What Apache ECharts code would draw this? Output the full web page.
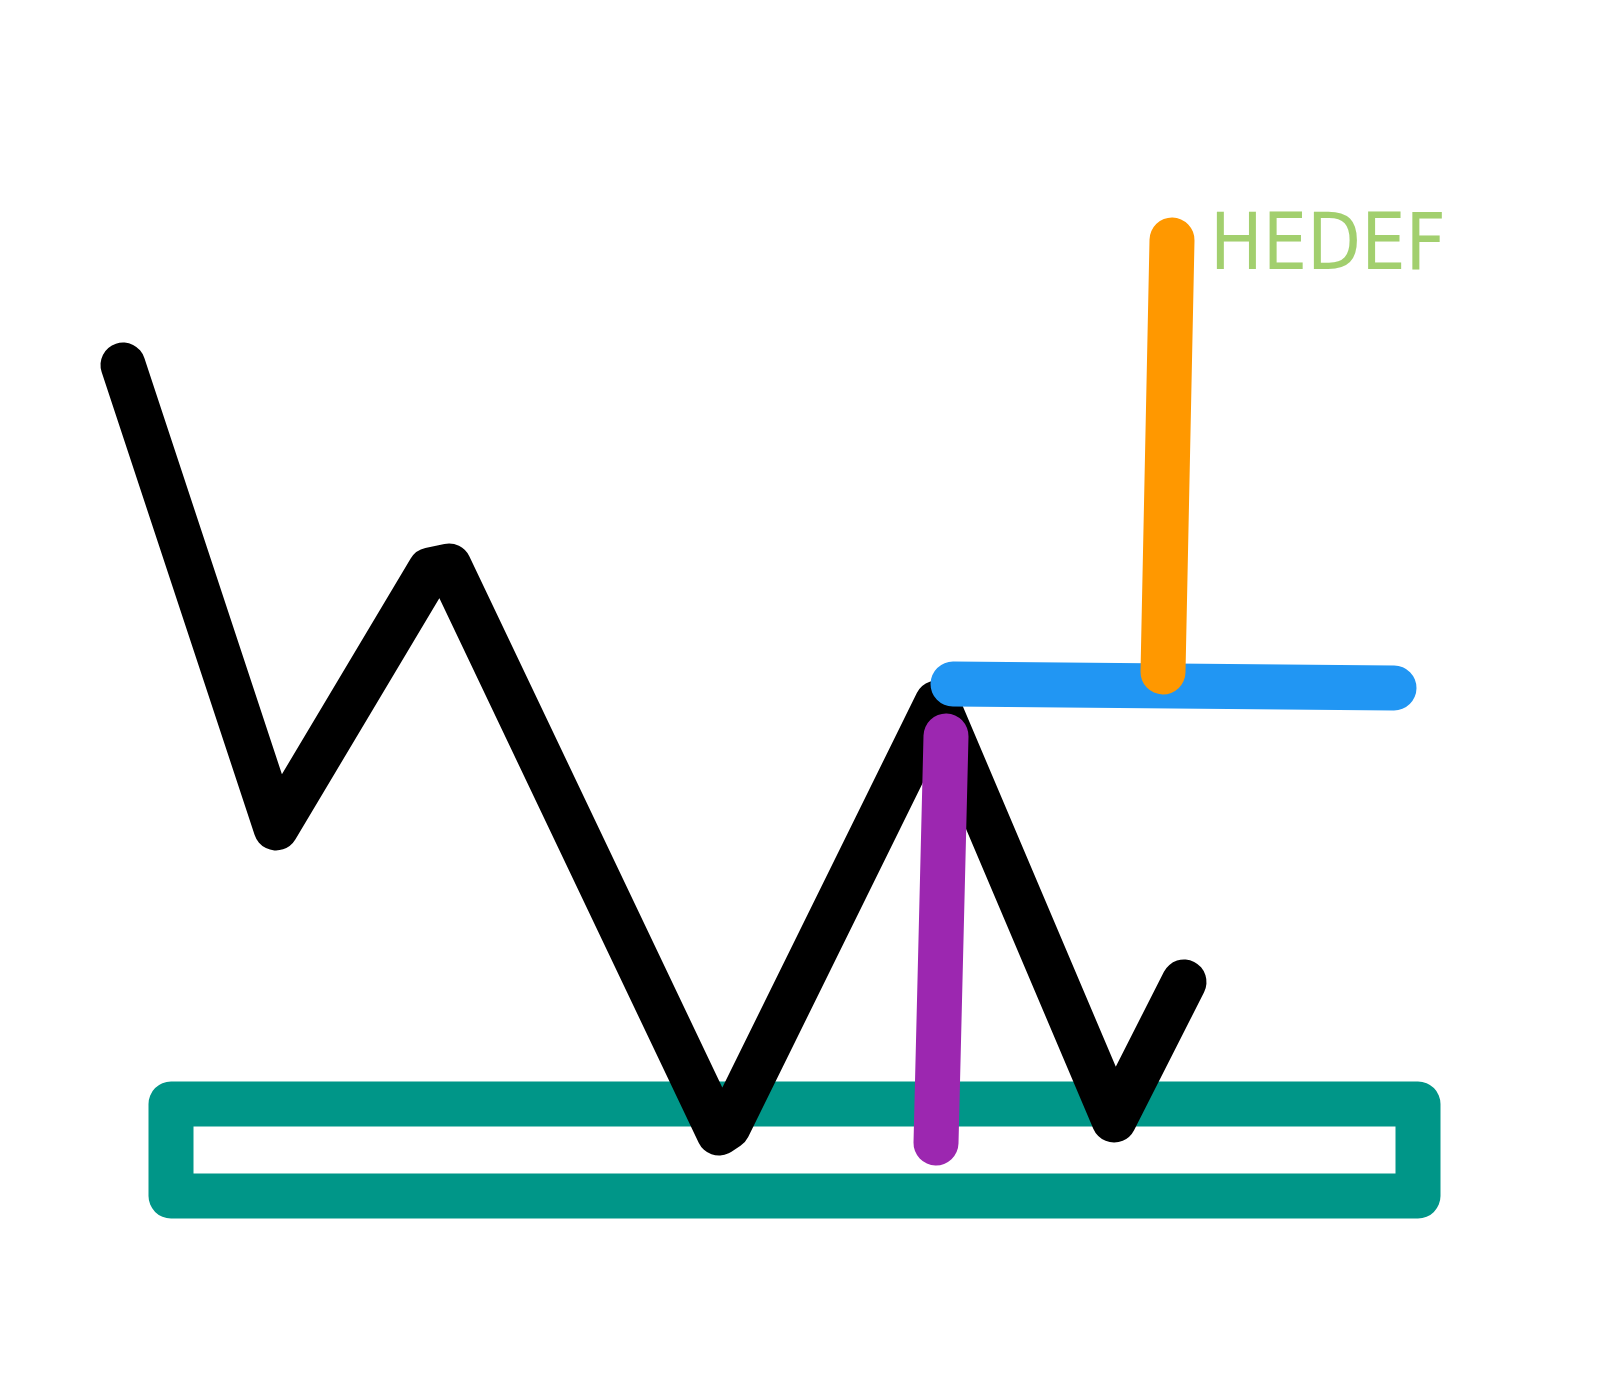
<!DOCTYPE html>
<html>
<head>
<meta charset="utf-8">
<script src="https://cdn.jsdelivr.net/npm/echarts@6/dist/echarts.min.js"></script>
<style>
html,body{margin:0;padding:0;background:#ffffff;}
#chart{width:1600px;height:1400px;}
</style>
</head>
<body>
<div id="chart"></div>
<script>
// Values (x = time position, y = price level)
const priceX = [123, 276, 430, 449, 719, 728, 937, 1114, 1184];
const priceY = [1035, 572, 830, 834, 267, 273, 697, 280, 418];

const zoneX = [171, 1418, 1418, 171, 171];
const zoneY = [296, 296, 204, 204, 296];

const neckX = [953, 1394];
const neckY = [716, 712];

const targetX = [1163, 1172];
const targetY = [728, 1160];

const heightX = [946, 936];
const heightY = [664, 257];

const labelText = ['HEDEF'];
const labelX = [1210];
const labelY = [1151];

const pairs = (xs, ys) => xs.map((x, i) => [x, ys[i]]);

const lineSeries = (name, xs, ys, color, z) => ({
  name: name,
  type: 'line',
  data: pairs(xs, ys),
  showSymbol: false,
  symbol: 'none',
  z: z,
  lineStyle: { color: color, width: 45, cap: 'round', join: 'round' },
  emphasis: { disabled: true },
  animation: false
});

const chart = echarts.init(document.getElementById('chart'), null, { renderer: 'canvas' });
chart.setOption({
  backgroundColor: '#ffffff',
  animation: false,
  grid: { left: 0, right: 0, top: 0, bottom: 0 },
  xAxis: { type: 'value', min: 0, max: 1600, show: false },
  yAxis: { type: 'value', min: 0, max: 1400, show: false },
  series: [
    lineSeries('Zone', zoneX, zoneY, '#009688', 1),
    lineSeries('Price', priceX, priceY, '#000000', 2),
    lineSeries('Height', heightX, heightY, '#9C27B0', 3),
    lineSeries('Neckline', neckX, neckY, '#2196F3', 4),
    lineSeries('Target', targetX, targetY, '#FF9800', 5),
    {
      name: 'Label',
      type: 'scatter',
      symbolSize: 0,
      z: 6,
      data: pairs(labelX, labelY),
      label: {
        show: true,
        position: 'right',
        distance: 0,
        formatter: (p) => labelText[p.dataIndex],
        color: '#8BC34A',
        fontFamily: "'DejaVu Sans Condensed', 'DejaVu Sans'",
        fontSize: 78,
        fontWeight: 'normal'
      },
      emphasis: { disabled: true },
      silent: true
    }
  ]
});
</script>
</body>
</html>
